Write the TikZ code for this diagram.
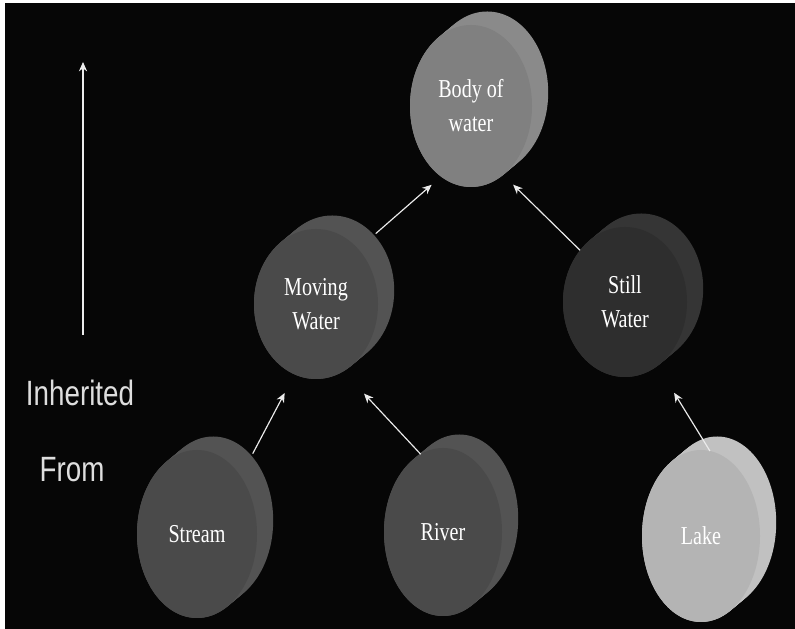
\documentclass[tikz,border=0pt]{standalone}
\usepackage{fontspec}
\setmainfont{Liberation Serif}[FakeStretch=0.78]
\newfontfamily\sidefont{Liberation Sans}[FakeStretch=0.79]
\usetikzlibrary{shapes.geometric,arrows.meta}
\definecolor{bg}{RGB}{6,6,6}
\definecolor{arrowwhite}{RGB}{235,235,235}
\definecolor{labelgrey}{RGB}{222,222,222}
\definecolor{bodyfront}{RGB}{128,128,128}
\definecolor{bodyback}{RGB}{138,138,138}
\definecolor{movefront}{RGB}{74,74,74}
\definecolor{moveback}{RGB}{83,83,83}
\definecolor{stillfront}{RGB}{46,46,46}
\definecolor{stillback}{RGB}{53,53,53}
\definecolor{lakefront}{RGB}{180,180,180}
\definecolor{lakeback}{RGB}{193,193,193}

\begin{document}
\begin{tikzpicture}[x=0.03cm, y=0.03cm,
    disc/.style={ellipse, inner sep=0, outer sep=0, text=white, align=center,
                 font=\fontsize{22}{29}\selectfont},
    inh/.style={draw=arrowwhite, line width=1pt, -{Stealth[length=8pt, width=7pt]}}]
  \fill[white] (0,0) rectangle (795,629);
  \fill[bg] (5,0) rectangle (795,626);
  % name/x/y/width/height/front/back/label
  \foreach \n/\x/\y/\w/\h/\f/\b/\t in {
      body/471/523/122/162/bodyfront/bodyback/{Body of\\water},
      moving/316/325/124/150/movefront/moveback/{Moving\\Water},
      still/625/327/124/150/stillfront/stillback/{Still\\Water},
      stream/197/95/120/168/movefront/moveback/{Stream},
      river/443/97/118/168/movefront/moveback/{River},
      lake/701/93/118/172/lakefront/lakeback/{Lake}}
  {
    \foreach \s in {0,0.1,...,1}
      \fill[\b] (\x+18*\s, \y+15*\s) ellipse [x radius=\w/2, y radius=\h/2];
    \node[disc, fill=\f, minimum width=\w*0.03cm, minimum height=\h*0.03cm] (\n) at (\x,\y) {\t};
  }
  \draw[inh, shorten >=10.7pt] ([shift={(18,15)}]moving.53) -- (body.247);
  \draw[inh, shorten >=12pt] (still.131) -- (body.295);
  \draw[inh, shorten >=18pt] ([shift={(18,15)}]stream.60) -- (moving.253);
  \draw[inh, shorten >=26pt] (river.106) -- (moving.292);
  \draw[inh, shorten >=27pt] (lake.84) -- (still.297);
  % legend on the left
  \coordinate (tail) at (83,294);
  \coordinate (tip) at (83,567);
  \draw[inh] (tail) -- (tip);
  \node[text=labelgrey, font=\sidefont\fontsize{30}{36}\selectfont] (inherited) at (80,236) {Inherited};
  \node[text=labelgrey, font=\sidefont\fontsize{30}{36}\selectfont] (from) at (72,159) {From};
\end{tikzpicture}
\end{document}
